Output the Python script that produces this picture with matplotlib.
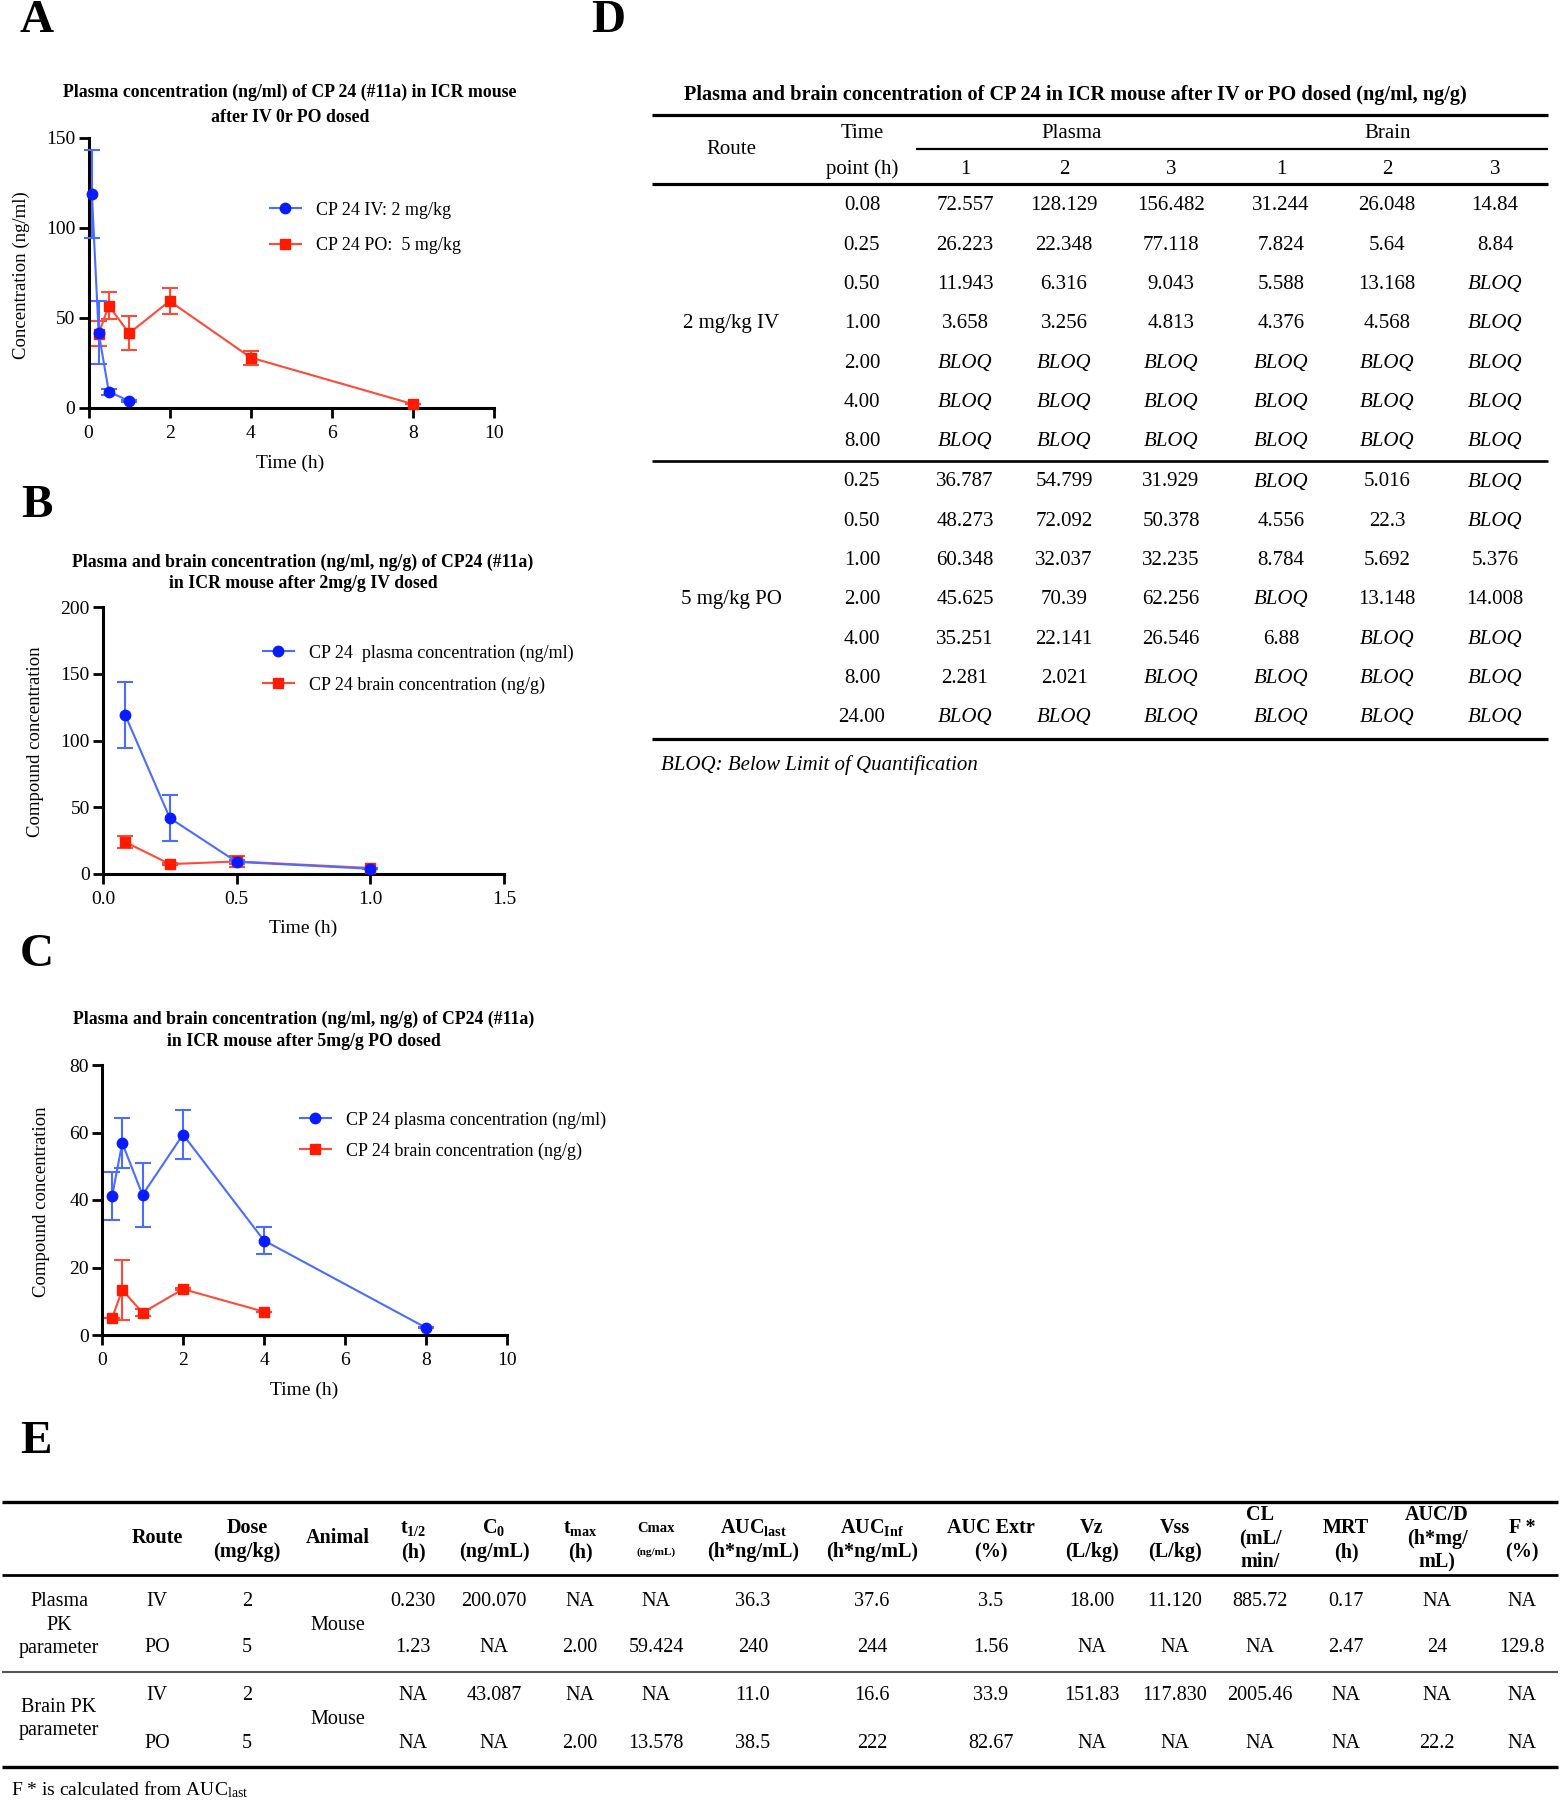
import matplotlib
matplotlib.use('Agg')
import matplotlib.pyplot as plt
from matplotlib.lines import Line2D
import numpy as np

W, H = 1560, 1800
plt.rcParams['font.family'] = ['Liberation Serif', 'DejaVu Serif']
plt.rcParams['mathtext.fontset'] = 'custom'
plt.rcParams['mathtext.rm'] = 'Liberation Serif'
plt.rcParams['mathtext.it'] = 'Liberation Serif:italic'
plt.rcParams['mathtext.bf'] = 'Liberation Serif:bold'

# ---------------- data ----------------
iv_time = [0.083, 0.25, 0.5, 1.0]
iv_plasma_mean = [119.1, 41.9, 9.1, 3.9]
iv_plasma_sem = [24.5, 17.4, 1.6, 0.5]
iv_brain_mean = [24.0, 7.4, 9.4, 4.5]
iv_brain_sem = [4.8, 0.9, 3.8, 0.1]

po_time = [0.25, 0.5, 1.0, 2.0, 4.0, 8.0]
po_plasma_mean = [41.2, 56.9, 41.5, 59.4, 28.0, 2.15]
po_plasma_sem = [7.0, 7.5, 9.4, 7.2, 3.9, 0.13]
po_brain_time = [0.25, 0.5, 1.0, 2.0, 4.0]
po_brain_mean = [5.0, 13.4, 6.6, 13.6, 6.9]
po_brain_sem = [0.0, 8.9, 1.0, 0.4, 0.0]

a_xticks = [0, 2, 4, 6, 8, 10]
a_yticks = [0, 50, 100, 150]
b_xticks = [0.0, 0.5, 1.0, 1.5]
b_yticks = [0, 50, 100, 150, 200]
c_xticks = [0, 2, 4, 6, 8, 10]
c_yticks = [0, 20, 40, 60, 80]

d_iv_times = ['0.08', '0.25', '0.50', '1.00', '2.00', '4.00', '8.00']
d_iv_rows = [
    ['72.557', '128.129', '156.482', '31.244', '26.048', '14.84'],
    ['26.223', '22.348', '77.118', '7.824', '5.64', '8.84'],
    ['11.943', '6.316', '9.043', '5.588', '13.168', 'BLOQ'],
    ['3.658', '3.256', '4.813', '4.376', '4.568', 'BLOQ'],
    ['BLOQ', 'BLOQ', 'BLOQ', 'BLOQ', 'BLOQ', 'BLOQ'],
    ['BLOQ', 'BLOQ', 'BLOQ', 'BLOQ', 'BLOQ', 'BLOQ'],
    ['BLOQ', 'BLOQ', 'BLOQ', 'BLOQ', 'BLOQ', 'BLOQ'],
]
d_po_times = ['0.25', '0.50', '1.00', '2.00', '4.00', '8.00', '24.00']
d_po_rows = [
    ['36.787', '54.799', '31.929', 'BLOQ', '5.016', 'BLOQ'],
    ['48.273', '72.092', '50.378', '4.556', '22.3', 'BLOQ'],
    ['60.348', '32.037', '32.235', '8.784', '5.692', '5.376'],
    ['45.625', '70.39', '62.256', 'BLOQ', '13.148', '14.008'],
    ['35.251', '22.141', '26.546', '6.88', 'BLOQ', 'BLOQ'],
    ['2.281', '2.021', 'BLOQ', 'BLOQ', 'BLOQ', 'BLOQ'],
    ['BLOQ', 'BLOQ', 'BLOQ', 'BLOQ', 'BLOQ', 'BLOQ'],
]
d_subcols = ['1', '2', '3', '1', '2', '3']

e_headers = [
    ['Route'], ['Dose', '(mg/kg)'], ['Animal'],
    [r'$\mathbf{t_{1/2}}$', '(h)'], [r'$\mathbf{C_{0}}$', '(ng/mL)'],
    [r'$\mathbf{t_{max}}$', '(h)'], ['Cmax', '(ng/mL)'],
    [r'$\mathbf{AUC_{last}}$', '(h*ng/mL)'], [r'$\mathbf{AUC_{Inf}}$', '(h*ng/mL)'],
    ['AUC Extr', '(%)'], ['Vz', '(L/kg)'], ['Vss', '(L/kg)'],
    ['CL', '(mL/', 'min/'], ['MRT', '(h)'], ['AUC/D', '(h*mg/', 'mL)'], ['F *', '(%)'],
]
e_rows = [
    ['IV', '2', '0.230', '200.070', 'NA', 'NA', '36.3', '37.6', '3.5', '18.00', '11.120', '885.72', '0.17', 'NA', 'NA'],
    ['PO', '5', '1.23', 'NA', '2.00', '59.424', '240', '244', '1.56', 'NA', 'NA', 'NA', '2.47', '24', '129.8'],
    ['IV', '2', 'NA', '43.087', 'NA', 'NA', '11.0', '16.6', '33.9', '151.83', '117.830', '2005.46', 'NA', 'NA', 'NA'],
    ['PO', '5', 'NA', 'NA', '2.00', '13.578', '38.5', '222', '82.67', 'NA', 'NA', 'NA', 'NA', '22.2', 'NA'],
]
e_groups = [['Plasma', 'PK', 'parameter'], ['Brain PK', 'parameter']]
e_animal = 'Mouse'

BLUE = '#0a1cff'
BLUE_L = '#4a6cff'
RED = '#ff1a00'
RED_L = '#ff4a3a'

fig = plt.figure(figsize=(W / 100, H / 100), dpi=100)


def T(x, y, s, **kw):
    kw.setdefault('ha', 'center')
    kw.setdefault('va', 'center')
    return fig.text(x / W, 1 - y / H, s, **kw)


def HL(y, x0, x1, lw, color='black'):
    fig.add_artist(Line2D([x0 / W, x1 / W], [1 - y / H, 1 - y / H],
                          transform=fig.transFigure, color=color, lw=lw,
                          solid_capstyle='butt'))


def make_ax(x0, x1, ybot, ytop):
    ax = fig.add_axes([x0 / W, 1 - ybot / H, (x1 - x0) / W, (ybot - ytop) / H])
    for s in ['top', 'right']:
        ax.spines[s].set_visible(False)
    for s in ['left', 'bottom']:
        ax.spines[s].set_linewidth(2.2)
    ax.tick_params(direction='out', length=7.5, width=2, labelsize=14, pad=2)
    ax.tick_params(axis='x', pad=5)
    ax.patch.set_alpha(0)
    return ax


def series(ax, t, m, s, col, lcol, marker, z):
    c = ax.errorbar(t, m, yerr=s, fmt='-' + marker, color=lcol, ecolor=lcol,
                    mfc=col, mec=col, ms=7.5, lw=1.5, elinewidth=1.5,
                    capsize=5.5, capthick=1.5, zorder=z, clip_on=False)
    for a in c.get_children():
        a.set_clip_on(False)
    return c[0]


def legend(ax, handles, labels, xl, yc, spacing):
    lg = ax.legend(handles, labels, loc='center left',
                   bbox_to_anchor=(xl / W, 1 - yc / H), bbox_transform=fig.transFigure,
                   frameon=False, fontsize=13, handlelength=1.7, handletextpad=0.85,
                   labelspacing=spacing, borderpad=0, borderaxespad=0)
    return lg


# ---------------- Panel A ----------------
axA = make_ax(88.5, 494, 408, 138)
hA1 = series(axA, iv_time, iv_plasma_mean, iv_plasma_sem, BLUE, BLUE_L, 'o', 4)
hA2 = series(axA, po_time, po_plasma_mean, po_plasma_sem, RED, RED_L, 's', 3)
axA.set_xlim(0, 10)
axA.set_ylim(0, 150)
axA.set_xticks(a_xticks)
axA.set_yticks(a_yticks)
legend(axA, [hA1, hA2], ['CP 24 IV: 2 mg/kg', 'CP 24 PO:  5 mg/kg'], 270, 228, 1.05)
T(290, 92, 'Plasma concentration (ng/ml) of CP 24 (#11a) in ICR mouse', fontsize=12.8, fontweight='bold')
T(290, 118, 'after IV 0r PO dosed', fontsize=12.8, fontweight='bold')
T(21, 275, 'Concentration (ng/ml)', rotation=90, fontsize=13.5)
T(290, 463, 'Time (h)', fontsize=14)

# ---------------- Panel B ----------------
axB = make_ax(103, 504, 874, 607)
hB2 = series(axB, iv_time, iv_brain_mean, iv_brain_sem, RED, RED_L, 's', 3)
hB1 = series(axB, iv_time, iv_plasma_mean, iv_plasma_sem, BLUE, BLUE_L, 'o', 4)
axB.set_xlim(0, 1.5)
axB.set_ylim(0, 200)
axB.set_xticks(b_xticks)
axB.set_xticklabels(['%.1f' % v for v in b_xticks])
axB.set_yticks(b_yticks)
legend(axB, [hB1, hB2], ['CP 24  plasma concentration (ng/ml)', 'CP 24 brain concentration (ng/g)'], 263, 669, 0.8)
T(303, 562, 'Plasma and brain concentration (ng/ml, ng/g) of CP24 (#11a)', fontsize=12.8, fontweight='bold')
T(303, 584, 'in ICR mouse after 2mg/g IV dosed', fontsize=12.8, fontweight='bold')
T(36, 742, 'Compound concentration', rotation=90, fontsize=13.5)
T(303, 928, 'Time (h)', fontsize=14)

# ---------------- Panel C ----------------
axC = make_ax(102, 507, 1335, 1065)
hC2 = series(axC, po_brain_time, po_brain_mean, po_brain_sem, RED, RED_L, 's', 3)
hC1 = series(axC, po_time, po_plasma_mean, po_plasma_sem, BLUE, BLUE_L, 'o', 4)
axC.set_xlim(0, 10)
axC.set_ylim(0, 80)
axC.set_xticks(c_xticks)
axC.set_yticks(c_yticks)
legend(axC, [hC1, hC2], ['CP 24 plasma concentration (ng/ml)', 'CP 24 brain concentration (ng/g)'], 300, 1135.5, 0.75)
T(304, 1019, 'Plasma and brain concentration (ng/ml, ng/g) of CP24 (#11a)', fontsize=12.8, fontweight='bold')
T(304, 1042, 'in ICR mouse after 5mg/g PO dosed', fontsize=12.8, fontweight='bold')
T(42, 1202, 'Compound concentration', rotation=90, fontsize=13.5)
T(304, 1390, 'Time (h)', fontsize=14)

# ---------------- Panel letters ----------------
for lab, x, y in [('A', 37, 21), ('B', 37, 506), ('C', 37, 955), ('D', 608, 21), ('E', 36, 1442)]:
    T(x, y, lab, fontsize=34, fontweight='bold')

# ---------------- Panel D table ----------------
T(1075, 95, 'Plasma and brain concentration of CP 24 in ICR mouse after IV or PO dosed (ng/ml, ng/g)',
  fontsize=14.6, fontweight='bold')
HL(115, 652, 1548, 2.3)
HL(149, 916, 1548, 1.6)
HL(184, 652, 1548, 2.3)
HL(461, 652, 1548, 1.9)
HL(739, 652, 1548, 2.3)
DFS = 15
T(731, 150, 'Route', fontsize=DFS)
T(862, 133, 'Time', fontsize=DFS)
T(862, 169, 'point (h)', fontsize=DFS)
T(1072, 133, 'Plasma', fontsize=DFS)
T(1388, 133, 'Brain', fontsize=DFS)
d_colx = [965, 1064, 1171, 1281, 1387, 1495]
for x, s in zip(d_colx, d_subcols):
    T(x, 169, s, fontsize=DFS)

for block, (times, rows, y0, route) in enumerate([
        (d_iv_times, d_iv_rows, 206, '2 mg/kg IV'),
        (d_po_times, d_po_rows, 482, '5 mg/kg PO')]):
    ys = [y0 + 39.3 * i for i in range(len(times))]
    T(731, ys[3], route, fontsize=DFS)
    for y, tt, row in zip(ys, times, rows):
        T(862, y, tt, fontsize=DFS)
        for x, v in zip(d_colx, row):
            T(x, y, v, fontsize=DFS, style='italic' if v == 'BLOQ' else 'normal')
T(661, 765, 'BLOQ: Below Limit of Quantification', fontsize=DFS, style='italic', ha='left')

# ---------------- Panel E table ----------------
HL(1502, 2, 1558, 2.4)
HL(1575, 2, 1558, 2.0)
HL(1672, 2, 1558, 1.5, color='#555555')
HL(1767, 2, 1558, 2.4)
e_colx = [157, 247, 338, 413, 494, 580, 656, 753, 872, 991, 1092, 1175, 1260, 1346, 1437, 1522]
EFS = 14.5
for x, hdr in zip(e_colx, e_headers):
    if len(hdr) == 1:
        ys = [1538]
    elif len(hdr) == 2:
        ys = [1528, 1552]
    else:
        ys = [1515, 1539, 1562]
    for i, (y, s) in enumerate(zip(ys, hdr)):
        fs = EFS
        if hdr[0] == 'Cmax':
            fs = 10.5 if i == 0 else 8
        T(x, y, s, fontsize=fs, fontweight='bold')

data_colx = [e_colx[0], e_colx[1]] + e_colx[3:]
row_y = [1602, 1647, 1696, 1743]
for y, row in zip(row_y, e_rows):
    for x, v in zip(data_colx, row):
        T(x, y, v, fontsize=EFS)
T(e_colx[2], 1625, e_animal, fontsize=EFS)
T(e_colx[2], 1720, e_animal, fontsize=EFS)
for y, s in zip([1602, 1625, 1648], e_groups[0]):
    T(59, y, s, fontsize=EFS)
for y, s in zip([1707, 1730], e_groups[1]):
    T(59, y, s, fontsize=EFS)
T(11, 1790, r'F * is calculated from AUC$_{\mathrm{last}}$', fontsize=14, ha='left')

fig.savefig('out.png', dpi=100)
